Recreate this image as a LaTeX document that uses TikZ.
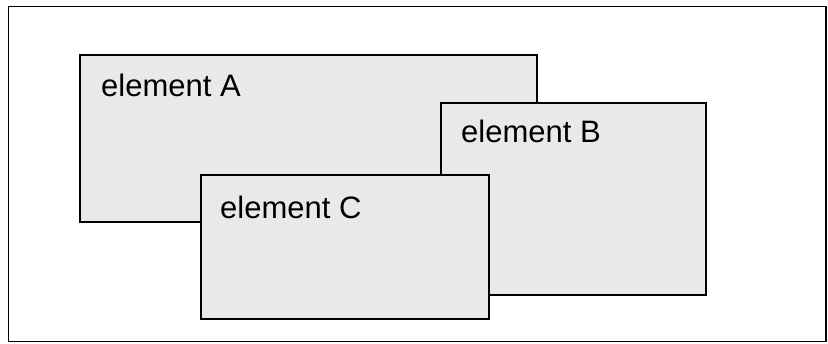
\documentclass[tikz,border=0pt]{standalone}
\usepackage{fontspec}
\setmainfont{Liberation Sans}
\usetikzlibrary{positioning}
\definecolor{elemgray}{HTML}{E9E9E9}
\tikzset{
  elem/.style={draw=black, fill=elemgray, line width=1.3pt, inner sep=0pt},
  elemlabel/.style={anchor=base west, inner sep=0pt, font=\fontsize{31}{34}\selectfont}
}

\begin{document}
\begin{tikzpicture}[x=1pt, y=-1pt]
\useasboundingbox (0,0) rectangle (828,343);
\draw[line width=1.5pt] (8.5,6.5) rectangle (826,341.5);
\node[elem, minimum width=457pt, minimum height=167pt] (boxA) at (308.5,138.5) {};
\node[elemlabel] (labA) at (101,96) {element A};
\node[elem, minimum width=265pt, minimum height=192pt] (boxB) at (573.5,199) {};
\node[elemlabel] (labB) at (461,142) {element B};
\node[elem, minimum width=288pt, minimum height=144pt] (boxC) at (345,247) {};
\node[elemlabel] (labC) at (220,218) {element C};
\end{tikzpicture}
\end{document}
